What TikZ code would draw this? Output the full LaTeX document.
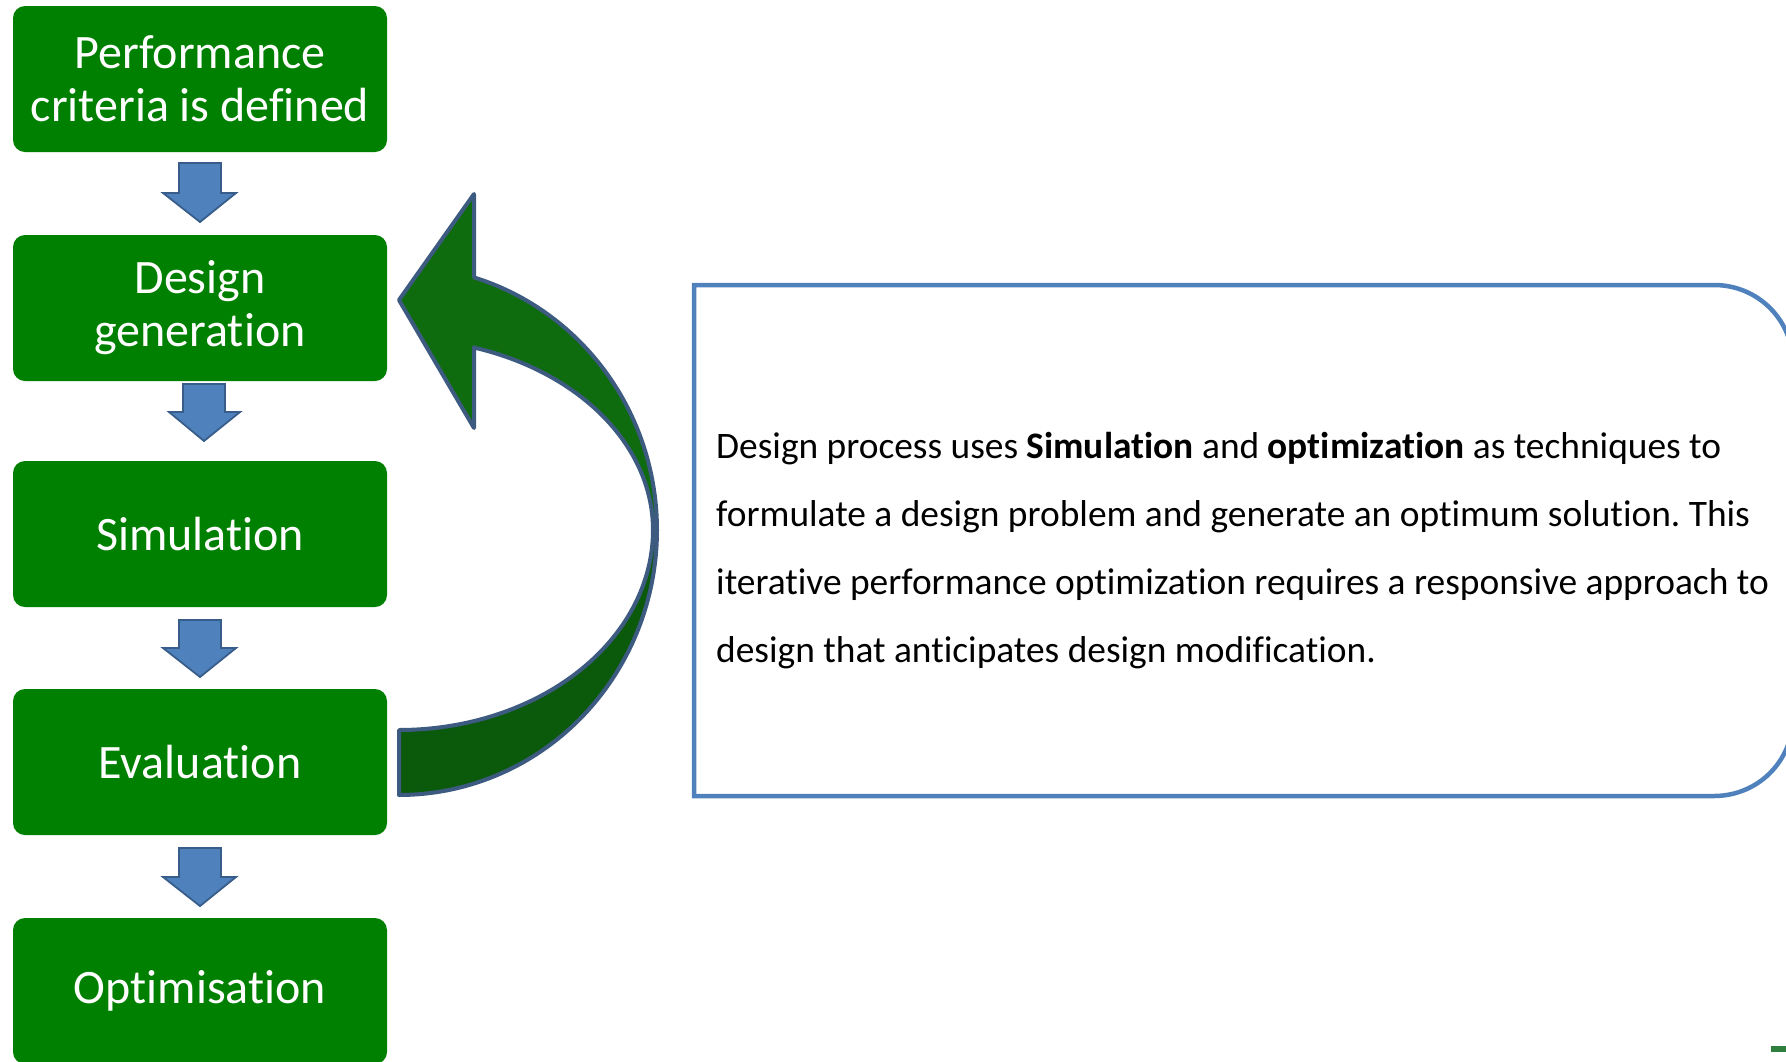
\documentclass[tikz,border=0pt]{standalone}
\usepackage{fontspec}
\setmainfont{Carlito}[Ligatures=NoCommon]
\definecolor{boxgreen}{HTML}{008000}
\definecolor{arrtop}{HTML}{0E6B0E}
\definecolor{arrbot}{HTML}{0B590B}
\definecolor{arrline}{HTML}{3D5A80}
\definecolor{bluefill}{HTML}{4F81BD}
\definecolor{blueline}{HTML}{385D8A}
\definecolor{rboxline}{HTML}{4F81BD}
\definecolor{markgreen}{HTML}{2F7F3F}
\tikzset{
  gbox/.style={draw=none, fill=boxgreen, rounded corners=12pt, minimum width=374pt,
    minimum height=146pt, inner sep=0pt, align=center, text=white,
    font=\fontsize{48}{53}\selectfont},
  downarrow/.style={fill=bluefill, draw=blueline, line width=1.8pt, line join=miter},
  curvearrow/.style={draw=arrline, line width=4pt, line join=round},
  rbox/.style={draw=rboxline, line width=4.5pt, line join=miter}
}
\begin{document}
\frenchspacing
\begin{tikzpicture}[x=1pt,y=-1pt]
\useasboundingbox (0,0) rectangle (1786,1061);
\clip (0,0) rectangle (1786,1061);
% process boxes
\node[gbox] (b1) at (200,79) {Performance\\criteria is defined};
\node[gbox] (b2) at (200,308) {Design\\generation};
\node[gbox] (b3) at (200,534) {Simulation};
\node[gbox] (b4) at (200,762) {Evaluation};
\node[gbox] (b5) at (200,991) {Optimisation};
% block down arrows
\draw[downarrow] (179,163) -- (221,163) -- (221,193) -- (236,193) -- (200,222) -- (163,193) -- (179,193) -- cycle;
\draw[downarrow] (183,384) -- (225,384) -- (225,412) -- (240,412) -- (204,441) -- (169,412) -- (183,412) -- cycle;
\draw[downarrow] (179,620) -- (221,620) -- (221,648) -- (236,648) -- (200,677) -- (163,648) -- (179,648) -- cycle;
\draw[downarrow] (179,848) -- (221,848) -- (221,877) -- (236,877) -- (200,906) -- (163,877) -- (179,877) -- cycle;
% curved feedback arrow: lower band
\draw[curvearrow, fill=arrbot]
  plot[domain=0:-90, samples=60, smooth] ({399+258*cos(\x)},{530-265*sin(\x)})
  -- (399,730)
  -- plot[domain=-90:0, samples=60, smooth] ({399+254*cos(\x)},{530-200*sin(\x)})
  -- cycle;
% upper band with arrow head
\draw[curvearrow, fill=arrtop]
  (474,347) -- (474,428) -- (399,300) -- (474,194) -- (474,277)
  -- plot[domain=73.1:0, samples=60, smooth] ({399+258*cos(\x)},{530-264*sin(\x)})
  -- plot[domain=0:72.8, samples=60, smooth] ({399+254*cos(\x)},{530-191*sin(\x)})
  -- cycle;
% description box
\draw[rbox] (694,285) -- (1714,285) .. controls (1758,285) and (1793,320) .. (1793,364)
  -- (1793,717) .. controls (1793,761) and (1758,796) .. (1714,796) -- (694,796) -- cycle;
\node[anchor=base west, inner sep=0pt] (desc) at (716,458) {\parbox[t]{1100pt}{\raggedright\fontsize{37.4}{68}\selectfont
Design process uses \textbf{Simulation} and \textbf{optimization} as techniques to\\
formulate a design problem and generate an optimum solution. This\\
iterative performance optimization requires a responsive approach to\\
design that anticipates design modification.}};
% small green mark at bottom right
\fill[markgreen] (1771,1046) rectangle (1786,1052);
\end{tikzpicture}
\end{document}
